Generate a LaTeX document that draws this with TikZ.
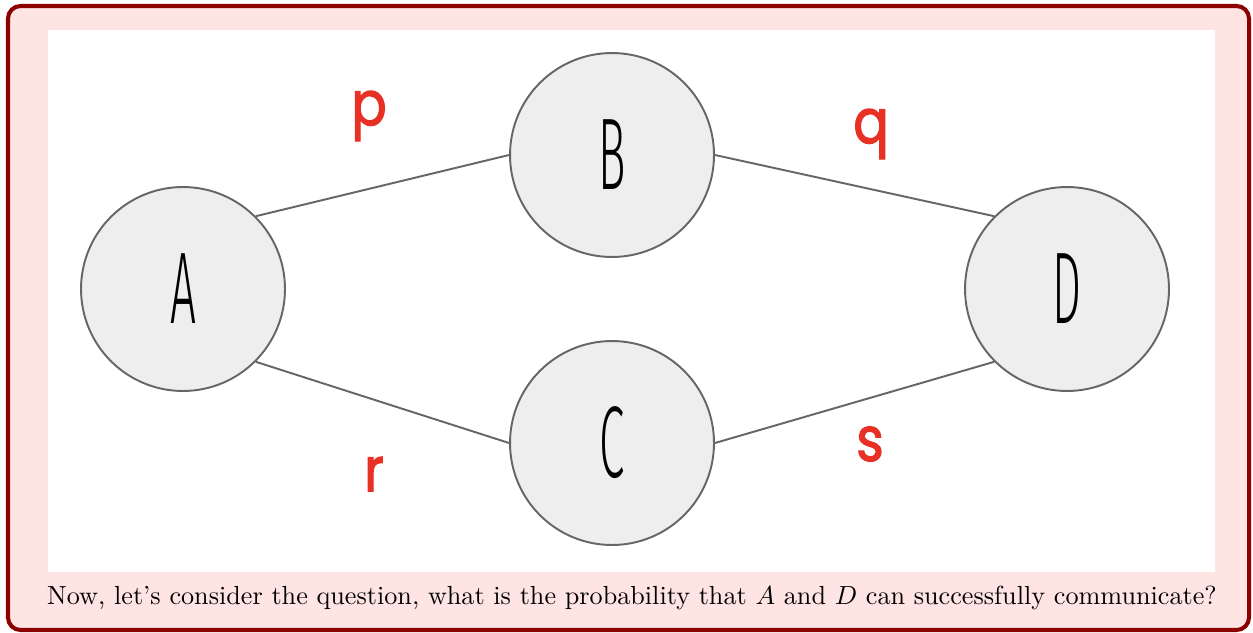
\documentclass[tikz,border=0pt]{standalone}
\usepackage{fontspec}
\usepackage{graphicx}
\usetikzlibrary{positioning}
\newfontfamily\handfont[FakeStretch=0.45, UprightFont={* Light}]{Fira Sans}
\newfontfamily\probfont[FakeBold=2, FakeStretch=0.85]{Poppins}
\usepackage{xcolor}
\definecolor{framered}{RGB}{140, 0, 0}
\definecolor{framefill}{RGB}{255, 228, 228}
\definecolor{nodegray}{RGB}{238, 238, 238}
\definecolor{edgegray}{RGB}{102, 102, 102}
\definecolor{probred}{RGB}{232, 48, 36}

\begin{document}
\begin{tikzpicture}[
    x=0.02cm, y=-0.02cm,
    vertex/.style={circle, draw=edgegray, line width=1.1pt, fill=nodegray, minimum size=4.08cm, inner sep=0pt, font=\handfont\fontsize{58}{58}\selectfont},
    prob/.style={text=probred, font=\probfont\fontsize{35}{35}\selectfont},
    link/.style={draw=edgegray, line width=1.1pt}
]
\useasboundingbox (0,0) rectangle (1253,632);

% Frame
\draw[framered, fill=framefill, line width=2.3pt, rounded corners=0.25cm] (8,6) rectangle (1249,630);
\fill[white] (48,30) rectangle (1215,572);

% Nodes
\node[vertex] (A) at (183,289) {A};
\node[vertex] (B) at (612,155) {B};
\node[vertex] (C) at (612,443) {C};
\node[vertex] (D) at (1067,289) {D};

% Links
\draw[link] (A.north east) -- (B.west);
\draw[link] (B.east) -- (D.north west);
\draw[link] (A.south east) -- (C.west);
\draw[link] (C.east) -- (D.south west);

% Probabilities
\node[prob] (p) at (369,116) {p};
\node[prob] (q) at (871,134) {q};
\node[prob] (r) at (374,474) {r};
\node[prob] (s) at (870,444) {s};

% Caption
\node (caption) at (632,598) {\scalebox{1.49}{\fontsize{10}{12}\selectfont Now, let's consider the question, what is the probability that $A$ and $D$ can successfully communicate?}};

\end{tikzpicture}
\end{document}
